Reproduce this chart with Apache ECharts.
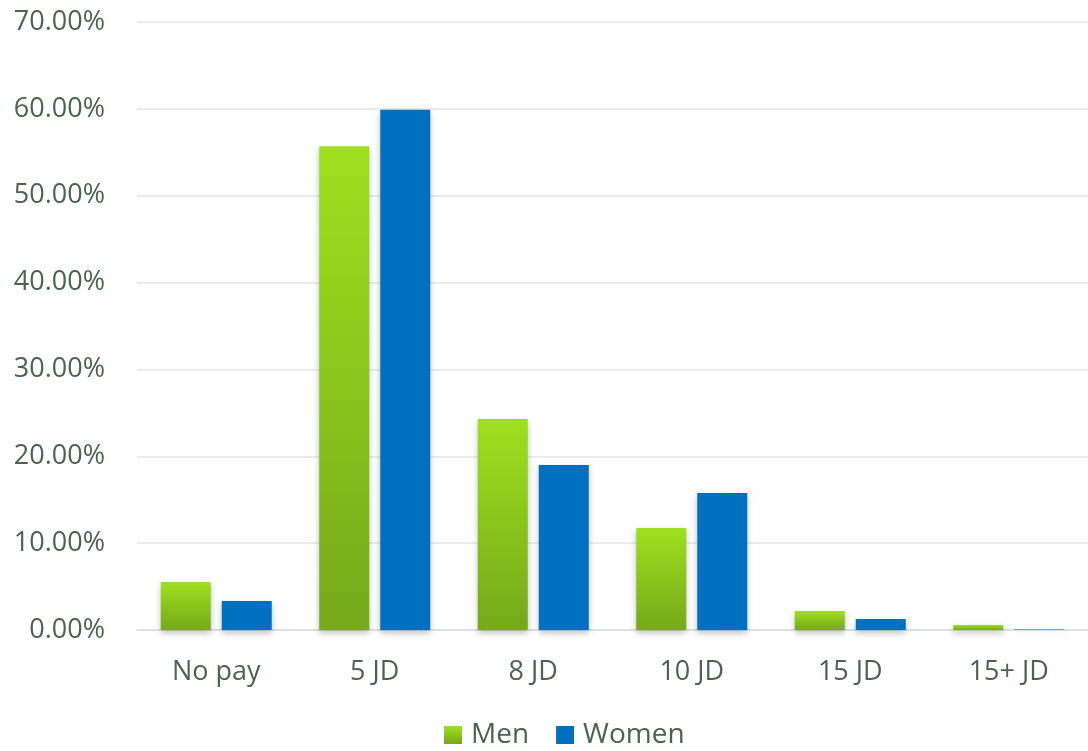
<!DOCTYPE html>
<html><head><meta charset="utf-8">
<script src="https://cdn.jsdelivr.net/npm/echarts@6/dist/echarts.min.js"></script>
<style>html,body{margin:0;padding:0;background:#fff}#c{width:1088px;height:751px}</style>
</head><body><div id="c"></div>
<script>
const categories = ["No pay", "5 JD", "8 JD", "10 JD", "15 JD", "15+ JD"];
const men = [5.52, 55.7, 24.3, 11.74, 2.19, 0.58];
const women = [3.34, 59.9, 19.0, 15.77, 1.27, 0.05];
const seriesNames = ["Men", "Women"];

const textColor = '#4a6356';
const font = 'Open Sans';
const chart = echarts.init(document.getElementById('c'));
chart.setOption({
  animation: false,
  grid: { left: 137, width: 960, top: 22, bottom: 121, containLabel: false },
  legend: {
    bottom: 2, left: 444, padding: 0, itemWidth: 18, itemHeight: 18, itemGap: 27,
    icon: 'rect',
    textStyle: { color: textColor, fontSize: 28, fontFamily: font, padding: [0, 0, 0, 4] },
    data: seriesNames
  },
  xAxis: {
    type: 'category', data: categories,
    axisLine: { lineStyle: { color: '#dce2df', width: 2 } },
    axisTick: { show: false },
    axisLabel: { color: textColor, fontSize: 27, fontFamily: font, margin: 29 }
  },
  yAxis: {
    type: 'value', min: 0, max: 70, interval: 10,
    axisLabel: { color: textColor, fontSize: 27, fontFamily: font, margin: 32,
      formatter: v => v.toFixed(2) + '%' },
    splitLine: { lineStyle: { color: '#e3e7e5', width: 1.5 } },
    axisLine: { show: false }, axisTick: { show: false }
  },
  series: [
    { name: seriesNames[0], type: 'bar', data: men, barWidth: 50, barGap: '22%',
      itemStyle: {
        color: new echarts.graphic.LinearGradient(0, 0, 0, 1, [
          { offset: 0, color: '#9ee01e' }, { offset: 1, color: '#76a81a' }]),
        shadowColor: 'rgba(0,0,0,0.25)', shadowBlur: 6, shadowOffsetY: 3
      } },
    { name: seriesNames[1], type: 'bar', data: women, barWidth: 50,
      itemStyle: { color: '#0070c0', shadowColor: 'rgba(0,0,0,0.25)', shadowBlur: 6, shadowOffsetY: 3 } }
  ]
});
</script></body></html>
